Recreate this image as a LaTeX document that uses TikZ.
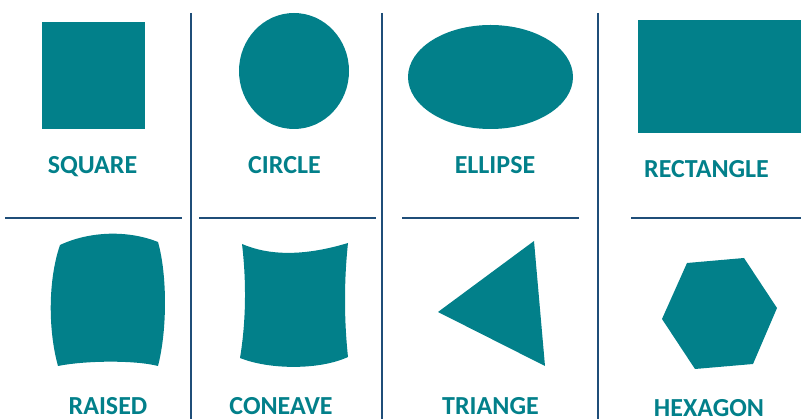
\documentclass[tikz,border=0pt]{standalone}
\usepackage{fontspec}
\setmainfont{Carlito}
\usepackage{tikz}
\definecolor{swatch}{HTML}{02808A}
\definecolor{rule}{HTML}{1F4E79}
\tikzset{sc/.style={x=1pt,y=-1pt,line width=2.6pt},
  lab/.style={swatch,anchor=base,inner sep=0pt,font=\bfseries\fontsize{26}{30}\selectfont}}

\begin{document}
\begin{tikzpicture}[sc]
  \useasboundingbox (0,0) rectangle (801,419);
  \draw[rule] (191,13)--(191,419);\draw[rule] (382,13)--(382,419);\draw[rule] (598,13)--(598,419);
  \draw[rule] (5,218)--(182,218);\draw[rule] (199,218)--(376,218);
  \draw[rule] (402,218)--(579,218);\draw[rule] (631,218)--(801,218);
  \fill[swatch] (42,22) rectangle (145,129);\node[lab] (square) at (92.5,174){SQUARE};
  \fill[swatch] (294,71) ellipse [x radius=55,y radius=58];\node[lab] (circle) at (284.5,174){CIRCLE};
  \fill[swatch] (490.5,77) ellipse [x radius=82.5,y radius=52];\node[lab] (ellipse) at (495,174){ELLIPSE};
  \fill[swatch] (638,20) rectangle (801,133);\node[lab] (rectangle) at (706.5,178){RECTANGLE};
  \fill[swatch] (60,245) .. controls (90,231) and (128,230) .. (158,242)
    .. controls (167.3,275) and (167.3,330) .. (158,366)
    .. controls (135,360) and (85,360.5) .. (58,366)
    .. controls (48,330) and (48,280) .. (60,245) -- cycle;
  \node[lab] (raised) at (108,415){RAISED};
  \fill[swatch] (242,244) .. controls (270,256) and (305,256) .. (348,243)
    .. controls (344,280) and (344,320) .. (348,357)
    .. controls (320,370) and (270,370) .. (240,358)
    .. controls (246.3,320) and (246.3,280) .. (242,244) -- cycle;
  \node[lab] (coneave) at (281,415){CONEAVE};
  \fill[swatch] (534,241)--(545,366)--(438,312)--cycle;\node[lab] (triange) at (490.5,415){TRIANGE};
  \fill[swatch] (687,263)--(744,258)--(777,308)--(753,364)--(695,369)--(662,319)--cycle;
  \node[lab] (hexagon) at (709,417){HEXAGON};
\end{tikzpicture}
\end{document}
